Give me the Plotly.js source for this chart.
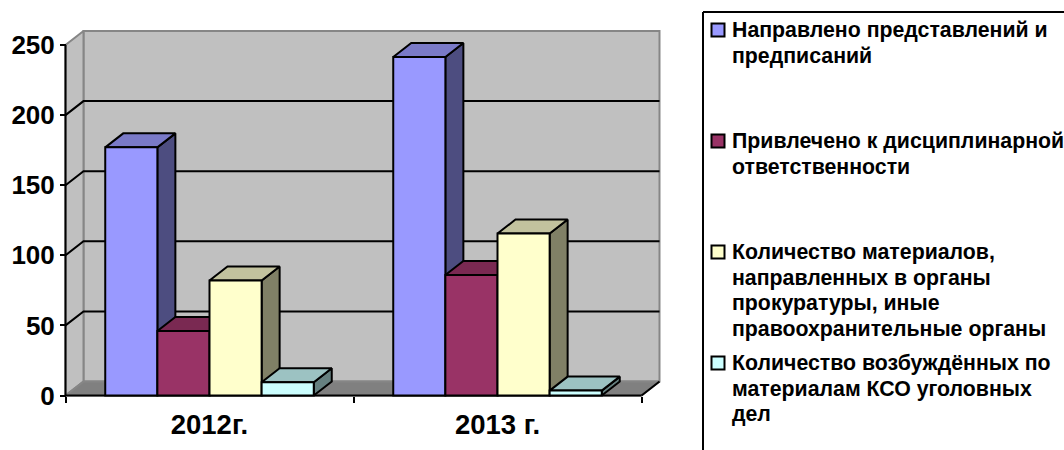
<!DOCTYPE html>
<html>
<head>
<meta charset="utf-8">
<script src="https://cdn.plot.ly/plotly-3.0.1.min.js"></script>
<style>html,body{margin:0;padding:0;background:#fff;overflow:hidden}#chart{width:1064px;height:450px}</style>
</head>
<body>
<div id="chart"></div>
<script>
// ---- data ----
const categories = ['2012г.', '2013 г.'];
const seriesNames = [
  'Направлено представлений и<br>предписаний',
  'Привлечено к дисциплинарной<br>ответственности',
  'Количество материалов,<br>направленных в органы<br>прокуратуры, иные<br>правоохранительные органы',
  'Количество возбуждённых по<br>материалам КСО уголовных<br>дел'
];
const presentations = [177, 241.5];
const disciplinary = [46, 86];
const materials = [82, 115.5];
const criminalCases = [9.5, 3.5];
const yTicks = [0, 50, 100, 150, 200, 250];

// ---- styles ----
const frontColors = ['#9999FF', '#993366', '#FFFFCC', '#CCFFFF'];
const topColors = ['#7A7AC8', '#7A2952', '#C2C29E', '#9CC2C2'];
const sideColors = ['#4D4D80', '#4D1A33', '#808066', '#668080'];
const FONT = '"Liberation Sans", Arial, sans-serif';

// ---- geometry: pixel box of the front plane, depth of the 3-D projection ----
const W = 1064, H = 450;
const fx0 = 65.5, fx1 = 641.5, fy0 = 395.5, fy1 = 45, depthPxX = 18, depthPxY = 14, pad = 3;
const pxCat = (fx1 - fx0) / categories.length, pxVal = (fy0 - fy1) / 250;
const dx = depthPxX / pxCat, dy = depthPxY / pxVal;
const xL = -0.5, xR = categories.length - 0.5;
const xRange = [xL - pad / pxCat, xR + dx + pad / pxCat];
const yRange = [-pad / pxVal, 250 + dy + pad / pxVal];
const xDomain = [(fx0 - pad) / W, (fx1 + depthPxX + pad) / W];
const yDomain = [(H - fy0 - pad) / H, (H - fy1 + depthPxY + pad) / H];
const bargap = 0.276;

const allSeries = [presentations, disciplinary, materials, criminalCases];
const traces = [];
const poly = (xs, ys, fill, line, w) => traces.push({
  type: 'scatter', mode: 'lines', x: xs, y: ys, fill: 'toself', fillcolor: fill,
  line: {color: line, width: w === undefined ? 2 : w}, hoverinfo: 'skip', showlegend: false, xaxis: 'x', yaxis: 'y'
});
const stroke = (xs, ys, color) => traces.push({
  type: 'scatter', mode: 'lines', x: xs, y: ys, line: {color: color, width: 2},
  hoverinfo: 'skip', showlegend: false, xaxis: 'x', yaxis: 'y'
});

// walls and floor
poly([xL + dx, xR + dx, xR + dx, xL + dx, xL + dx], [dy, dy, 250 + dy, 250 + dy, dy], '#C0C0C0', '#868686');
poly([xL, xL + dx, xL + dx, xL, xL], [0, dy, 250 + dy, 250, 0], '#C0C0C0', '#868686');
poly([xL, xR, xR + dx, xL + dx, xL], [0, 0, dy, dy, 0], '#808080', '#868686');
stroke([xR, xR + dx], [0, dy], '#000000');

// gridlines on the walls
yTicks.filter(v => v > 0 && v < 250).forEach(v => {
  stroke([xL, xL + dx, xR + dx], [v, v + dy, v + dy], '#000000');
});

// front axis lines
stroke([xL, xL], [0, 250], '#000000');
stroke([xL, xR], [0, 0], '#000000');

// side and top faces of the bars, painted left to right
const barW = (1 - bargap) / allSeries.length;
categories.forEach((c, ci) => {
  allSeries.forEach((vals, si) => {
    const left = ci - (1 - bargap) / 2 + si * barW, right = left + barW, v = vals[ci];
    poly([right, right + dx, right + dx, right, right], [0, dy, v + dy, v, 0], sideColors[si], '#000000');
    poly([left, right, right + dx, left + dx, left], [v, v, v + dy, v + dy, v], topColors[si], '#000000');
  });
});

// front faces: real grouped bars on the overlaid axes
allSeries.forEach((vals, si) => {
  traces.push({
    type: 'bar', x: categories, y: vals, name: seriesNames[si].replace(/<br>/g, ' '), xaxis: 'x2', yaxis: 'y2',
    marker: {color: frontColors[si], line: {color: '#000000', width: 2}}, showlegend: false, hoverinfo: 'y'
  });
});

// legend
const legendTop = 30, legendStep = 111, lineStep = 25.6, swatchCx = 718, swatchS = 13, textX = 730.5, legendFont = 21.3;
const shapes = [], annotations = [];
const px = v => v / W, py = v => 1 - v / H;
shapes.push({type: 'line', xref: 'paper', yref: 'paper', x0: px(703), x1: px(703), y0: py(12), y1: py(H), line: {color: '#000', width: 2}});
shapes.push({type: 'line', xref: 'paper', yref: 'paper', x0: px(703), x1: px(W), y0: py(12), y1: py(12), line: {color: '#000', width: 2}});
seriesNames.forEach((n, i) => {
  const cy = legendTop + i * legendStep;
  shapes.push({type: 'rect', xref: 'paper', yref: 'paper', x0: px(swatchCx - swatchS / 2), x1: px(swatchCx + swatchS / 2),
    y0: py(cy - swatchS / 2), y1: py(cy + swatchS / 2), fillcolor: frontColors[i], line: {color: '#000', width: 2}});
  n.split('<br>').forEach((line, li) => {
    annotations.push({xref: 'paper', yref: 'paper', x: px(textX), y: py(cy + li * lineStep), xanchor: 'left', yanchor: 'middle',
      align: 'left', showarrow: false, text: line, borderpad: 0, font: {family: FONT, size: legendFont, weight: 'bold', color: '#000'}});
  });
});

const layout = {
  width: W, height: H, margin: {l: 0, r: 0, t: 0, b: 0}, showlegend: false,
  paper_bgcolor: '#fff', plot_bgcolor: 'rgba(0,0,0,0)',
  barmode: 'group', bargap: bargap, bargroupgap: 0,
  font: {family: FONT, color: '#000'},
  xaxis: {type: 'linear', domain: xDomain, range: xRange, visible: false, fixedrange: true, anchor: 'y'},
  yaxis: {domain: yDomain, range: yRange, anchor: 'free', position: 66 / W, tickmode: 'array', tickvals: yTicks,
    ticktext: yTicks.map(String), ticks: 'outside', ticklen: 6, tickwidth: 2, tickcolor: '#000',
    showgrid: false, zeroline: false, showline: false, fixedrange: true,
    tickfont: {family: FONT, size: 26, weight: 'bold', color: '#000'}},
  xaxis2: {type: 'category', categoryorder: 'array', categoryarray: categories, overlaying: 'x', domain: xDomain,
    range: xRange, anchor: 'free', position: (H - fy0) / H, side: 'bottom', tickson: 'boundaries', ticks: 'outside', ticklen: 6, tickwidth: 2,
    tickcolor: '#000', showgrid: false, zeroline: false, showline: false, fixedrange: true, ticklabelstandoff: 10,
    tickfont: {family: FONT, size: 27.5, weight: 'bold', color: '#000'}},
  yaxis2: {overlaying: 'y', domain: yDomain, range: yRange, visible: false, fixedrange: true, anchor: 'x2'},
  shapes: shapes, annotations: annotations
};
Plotly.newPlot('chart', traces, layout, {displayModeBar: false, staticPlot: true});
</script>
</body>
</html>
